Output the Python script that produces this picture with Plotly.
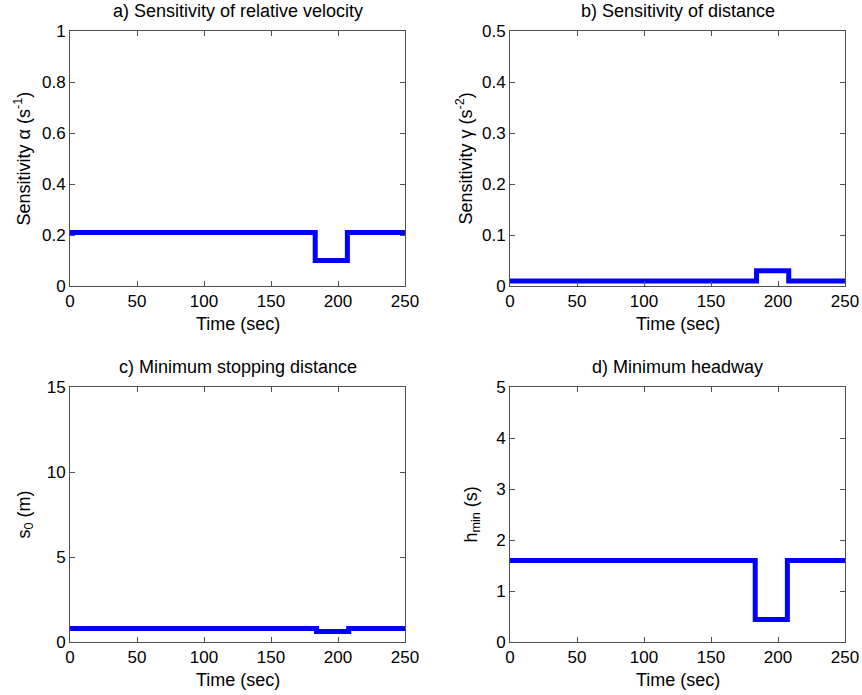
import plotly.graph_objects as go

# ---- data (step changes) ----
time_a = [0, 183, 207, 250]
alpha = [0.21, 0.10, 0.21, 0.21]

time_b = [0, 184, 208, 250]
gamma = [0.01, 0.03, 0.01, 0.01]

time_c = [0, 184, 208, 250]
s0 = [0.8, 0.62, 0.8, 0.8]

time_d = [0, 183, 207, 250]
hmin = [1.6, 0.44, 1.6, 1.6]

titles = ["a) Sensitivity of relative velocity", "b) Sensitivity of distance",
          "c) Minimum stopping distance", "d) Minimum headway"]
ylabels = ["Sensitivity \u03b1 (s<sup>-1</sup>)", "Sensitivity \u03b3 (s<sup>-2</sup>)",
           "s<sub>0</sub> (m)", "h<sub>min</sub> (s)"]
xlabel = "Time (sec)"
yranges = [[0, 1], [0, 0.5], [0, 15], [0, 5]]
ydticks = [0.2, 0.1, 5, 1]
x_ticks = [0, 50, 100, 150, 200, 250]

W, H = 862, 695
FONT = "Liberation Sans, Arial, sans-serif"
BLUE = "#0000FF"
AXC = "#505050"

# pixel boxes: (left, right, top, bottom)
boxes = [(70, 405, 31, 286), (510, 845, 31, 286), (70, 405, 387, 642), (510, 845, 387, 642)]
ytitle_x = [23, 465, 25, 472]

fig = go.Figure()
series = [(time_a, alpha), (time_b, gamma), (time_c, s0), (time_d, hmin)]
annotations = []
layout = {}
for i, ((t, v), (l, r, top, bot)) in enumerate(zip(series, boxes)):
    n = "" if i == 0 else str(i + 1)
    fig.add_trace(go.Scatter(x=t, y=v, mode="lines", line=dict(color=BLUE, width=5, shape="hv"),
                             xaxis="x" + n, yaxis="y" + n, showlegend=False, hoverinfo="skip"))
    axcommon = dict(showline=True, linecolor=AXC, linewidth=1, mirror="ticks", ticks="inside",
                    ticklen=5, tickcolor=AXC, showgrid=False, zeroline=False, automargin=False,
                    tickfont=dict(family=FONT, size=17, color="#000000"), fixedrange=True)
    layout["xaxis" + n] = dict(domain=[l / W, r / W], range=[0, 250], tickvals=x_ticks,
                               anchor="y" + n, **axcommon)
    layout["yaxis" + n] = dict(domain=[1 - bot / H, 1 - top / H], range=yranges[i], dtick=ydticks[i],
                               tick0=0, anchor="x" + n, **axcommon)
    cx = (l + r) / 2 / W
    annotations.append(dict(text=titles[i], x=cx, y=1 - (top - 20) / H, xref="paper", yref="paper",
                            xanchor="center", yanchor="middle", showarrow=False,
                            font=dict(family=FONT, size=18, color="#000000")))
    annotations.append(dict(text=xlabel, x=cx, y=1 - (bot + 38) / H, xref="paper", yref="paper",
                            xanchor="center", yanchor="middle", showarrow=False,
                            font=dict(family=FONT, size=18, color="#000000")))
    annotations.append(dict(text=ylabels[i], x=ytitle_x[i] / W, y=1 - (top + bot) / 2 / H,
                            xref="paper", yref="paper", xanchor="center", yanchor="middle",
                            textangle=-90, showarrow=False,
                            font=dict(family=FONT, size=18, color="#000000")))

fig.update_layout(width=W, height=H, margin=dict(l=0, r=0, t=0, b=0),
                  paper_bgcolor="white", plot_bgcolor="white", annotations=annotations, **layout)
fig.write_html("out.html")
